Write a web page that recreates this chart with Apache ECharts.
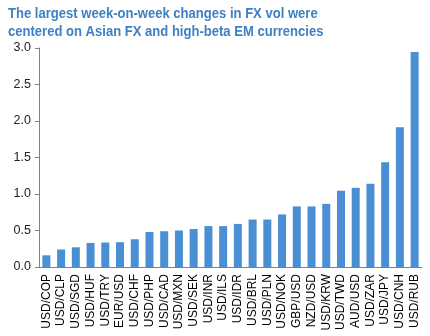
<!DOCTYPE html>
<html><head><meta charset="utf-8">
<script src="https://cdn.jsdelivr.net/npm/echarts@6/dist/echarts.min.js"></script>
<style>html,body{margin:0;padding:0;background:#fff}#c{width:430px;height:336px}</style>
</head><body><div id="c"></div>
<script>
var titleLines = ['The largest week-on-week changes in FX vol were', 'centered on Asian FX and high-beta EM currencies'];
var categories = ['USD/COP','USD/CLP','USD/SGD','USD/HUF','USD/TRY','EUR/USD','USD/CHF','USD/PHP','USD/CAD','USD/MXN','USD/SEK','USD/INR','USD/ILS','USD/IDR','USD/BRL','USD/PLN','USD/NOK','GBP/USD','NZD/USD','USD/KRW','USD/TWD','AUD/USD','USD/ZAR','USD/JPY','USD/CNH','USD/RUB'];
var values = [0.16,0.24,0.27,0.33,0.335,0.34,0.38,0.48,0.49,0.50,0.52,0.56,0.56,0.59,0.65,0.65,0.72,0.83,0.83,0.865,1.045,1.085,1.14,1.435,1.915,2.945];
var yTicks = [0, 0.5, 1.0, 1.5, 2.0, 2.5, 3.0];

var chart = echarts.init(document.getElementById('c'), null, {renderer: 'canvas'});
chart.setOption({
  animation: false,
  graphic: [{
    type: 'text', left: 8, top: 5, scaleX: 0.87, scaleY: 1,
    style: {
      text: titleLines.join('\n'),
      fill: '#3f80c2',
      font: 'bold 15px "Liberation Sans", Arial, sans-serif',
      lineHeight: 18
    }
  }],
  grid: {left: 39, right: 8, top: 48, bottom: 69, containLabel: false},
  xAxis: {
    type: 'category', data: categories,
    axisLine: {show: true, lineStyle: {color: '#808080', width: 1}},
    axisTick: {show: false},
    axisLabel: {rotate: 90, interval: 0, color: '#000', fontFamily: 'Liberation Sans, Arial, sans-serif', fontSize: 12, margin: 7}
  },
  yAxis: {
    type: 'value', min: yTicks[0], max: yTicks[yTicks.length-1], interval: 0.5,
    axisLine: {show: true, lineStyle: {color: '#808080', width: 1}},
    axisTick: {show: true, length: 4, lineStyle: {color: '#808080'}},
    splitLine: {show: false},
    axisLabel: {color: '#222', fontFamily: 'Liberation Sans, Arial, sans-serif', fontSize: 12.5, margin: 8,
      formatter: function(v){ return v.toFixed(1); }}
  },
  series: [{
    type: 'bar', data: values, barWidth: 8,
    itemStyle: {color: '#4a8fd4'}
  }]
});
</script></body></html>
